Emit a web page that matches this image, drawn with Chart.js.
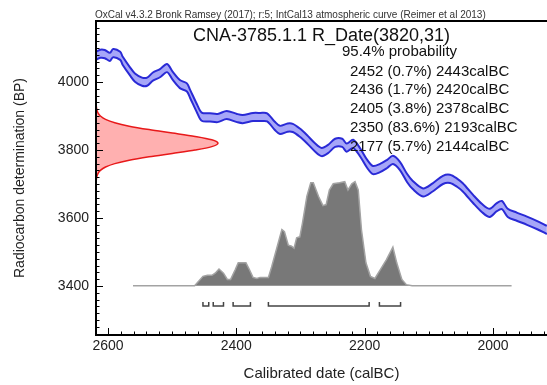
<!DOCTYPE html>
<html><head><meta charset="utf-8">
<script src="https://cdn.jsdelivr.net/npm/chart.js@4.4.1/dist/chart.umd.min.js"></script>
<style>html,body{margin:0;padding:0;background:#fff;}#wrap{width:547px;height:385px;position:relative;}</style>
</head><body><div id="wrap"><canvas id="c" width="547" height="385"></canvas></div>
<script>
// ---------- data ----------
const headerText = 'OxCal v4.3.2 Bronk Ramsey (2017); r:5; IntCal13 atmospheric curve (Reimer et al 2013)';
const sampleName = 'CNA-3785.1.1';
const dateBP = 3820;
const dateErr = 31;
const probLevel = 95.4;
const rangeFrom = [2452, 2436, 2405, 2350, 2177];
const rangePct  = [0.7, 1.7, 3.8, 83.6, 5.7];
const rangeTo   = [2443, 2420, 2378, 2193, 2144];
const xTicks = [2600, 2400, 2200, 2000];
const yTicks = [3400, 3600, 3800, 4000];

// calibration curve (IntCal13), calBC vs BP, with 1-sigma half width
const calBC = [2619,2612,2605,2597,2592,2581,2577,2566,2558,2547,2539,2530,2519,2508,2499,2488,2477,2472,2461,2454,2441,2429,2415,2399,2390,2374,2363,2352,2340,2332,2320,2312,2301,2290,2277,2267,2257,2246,2235,2228,2218,2207,2196,2187,2176,2165,2156,2145,2134,2125,2109,2094,2078,2067,2056,2047,2031,2017,2005,1994,1986,1977,1963,1947,1931,1916];
const curveBP = [4077,4083,4082,4074,4085,4077,4062,4032,4013,4001,4001,4016,4026,4041,4018,3994,3984,3965,3921,3898,3896,3894,3903,3894,3891,3897,3897,3896,3871,3859,3866,3865,3851,3832,3807,3794,3803,3821,3821,3807,3818,3793,3759,3741,3747,3759,3771,3753,3718,3697,3675,3690,3712,3715,3704,3690,3656,3629,3615,3632,3638,3615,3604,3592,3579,3565];
const curveSigma = [12,12,12,12,12,12,12,12,12,12,12,12,12,12,12,12,12,12,12,12,12,12,12,12,12,12,12,12,12,12,12,12,12,12,12,12,12,12,12,12,12,12,12,12,12,12,12,12,12,12,12,12,12,12,12,12,12,12,12,12,12,12,12,12,12,12];

// measured radiocarbon date distribution (relative probability)
const gaussBP   = [3700,3710,3720,3730,3740,3750,3760,3770,3780,3790,3800,3810,3820,3830,3840,3850,3860,3870,3880,3890,3900,3910,3920,3930,3940];
const gaussProb = [0.001,0.002,0.006,0.015,0.036,0.078,0.154,0.272,0.435,0.626,0.812,0.949,1.0,0.949,0.812,0.626,0.435,0.272,0.154,0.078,0.036,0.015,0.006,0.002,0.001];

// calibrated (posterior) distribution, relative probability
const postCal  = [2561,2465,2452,2445,2438,2433,2427,2420,2414,2409,2402,2397,2390,2385,2380,2374,2368,2363,2350,2345,2337,2329,2325,2319,2314,2310,2306,2301,2297,2290,2284,2280,2272,2265,2260,2255,2249,2239,2231,2226,2220,2215,2210,2205,2198,2191,2184,2176,2166,2156,2150,2142,2135,2126,1971];
const postProb = [0,0,0.09,0.10,0.10,0.12,0.16,0.12,0.06,0.06,0.15,0.22,0.22,0.22,0.16,0.08,0.07,0.08,0.08,0.18,0.36,0.54,0.52,0.39,0.38,0.36,0.46,0.47,0.60,0.86,0.99,0.99,0.86,0.77,0.78,0.92,0.98,0.99,1.00,0.92,0.98,1.00,0.92,0.54,0.22,0.09,0.07,0.15,0.25,0.37,0.22,0.06,0.01,0,0];

// ---------- chart ----------
const FONT = '"Liberation Sans", Arial, Helvetica, sans-serif';
Chart.defaults.font.family = FONT;
const BR_TOP = -0.157, BR_BAR = -0.195;

const bracketData = [];
rangeFrom.forEach((f, i) => {
  bracketData.push({x: f, y: BR_TOP}, {x: f, y: BR_BAR}, {x: rangeTo[i], y: BR_BAR}, {x: rangeTo[i], y: BR_TOP}, {x: rangeTo[i], y: null});
});

const framePlugin = {
  id: 'frame',
  afterDatasetsDraw(chart) {
    const {ctx, chartArea: a, scales: {x, y}} = chart;
    ctx.save();
    ctx.strokeStyle = '#000';
    ctx.lineWidth = 1;
    ctx.beginPath();
    for (let v = Math.ceil(x.min / 20) * 20; v <= x.max; v += 20) {
      const p = Math.round(x.getPixelForValue(v)) + 0.5;
      const len = v % 200 === 0 ? 7 : 3.5;
      ctx.moveTo(p, a.bottom); ctx.lineTo(p, a.bottom - len);
    }
    for (let v = Math.ceil(y.min / 20) * 20; v <= y.max; v += 20) {
      const p = Math.round(y.getPixelForValue(v)) + 0.5;
      const len = v % 200 === 0 ? 7 : 3.5;
      ctx.moveTo(a.left, p); ctx.lineTo(a.left + len, p);
    }
    ctx.stroke();
    ctx.lineWidth = 2;
    ctx.beginPath();
    ctx.moveTo(a.right, a.top); ctx.lineTo(a.left, a.top); ctx.lineTo(a.left, a.bottom); ctx.lineTo(a.right, a.bottom);
    ctx.stroke();
    ctx.restore();
  },
  afterDraw(chart) {
    const {ctx, chartArea: a} = chart;
    ctx.save();
    ctx.textBaseline = 'middle';
    ctx.fillStyle = '#333';
    ctx.textAlign = 'left';
    ctx.font = '10px ' + FONT;
    ctx.fillText(headerText, 95, 15);
    ctx.fillStyle = '#111';
    ctx.font = '18px ' + FONT;
    ctx.textAlign = 'center';
    ctx.fillText(sampleName + ' R_Date(' + dateBP + ',' + dateErr + ')', (a.left + a.right) / 2, 36);
    ctx.font = '15px ' + FONT;
    ctx.textAlign = 'left';
    ctx.fillText(probLevel + '% probability', 342, 52);
    rangeFrom.forEach((f, i) => {
      ctx.fillText(f + ' (' + rangePct[i] + '%) ' + rangeTo[i] + 'calBC', 350, 71.5 + i * 18.8);
    });
    ctx.restore();
  }
};

new Chart(document.getElementById('c'), {
  type: 'line',
  data: {
    datasets: [
      {label: 'posterior', data: postCal.map((c, i) => ({x: c, y: postProb[i]})), xAxisID: 'x', yAxisID: 'yp',
       borderColor: '#a3a3a3', borderWidth: 1.5, backgroundColor: '#787878', fill: 'origin', pointRadius: 0, tension: 0, order: 5},
      {label: 'date', indexAxis: 'y', data: gaussBP.map((b, i) => ({x: gaussProb[i], y: b})), xAxisID: 'xg', yAxisID: 'y',
       borderColor: '#e8191a', borderWidth: 1.5, backgroundColor: '#ffb0b0', fill: 'origin', pointRadius: 0, tension: 0.3, order: 4},
      {label: 'curveHi', data: calBC.map((c, i) => ({x: c, y: curveBP[i] + curveSigma[i]})), xAxisID: 'x', yAxisID: 'y',
       borderColor: '#2a2ad6', borderWidth: 2, pointRadius: 0, tension: 0.3, fill: false, order: 3},
      {label: 'curveLo', data: calBC.map((c, i) => ({x: c, y: curveBP[i] - curveSigma[i]})), xAxisID: 'x', yAxisID: 'y',
       borderColor: '#2a2ad6', borderWidth: 2, pointRadius: 0, tension: 0.3, fill: '-1', backgroundColor: '#a6a6f8', order: 3},
      {label: 'ranges', data: bracketData, xAxisID: 'x', yAxisID: 'yp', borderColor: '#444', borderWidth: 1.5,
       pointRadius: 0, tension: 0, fill: false, spanGaps: false, order: 1}
    ]
  },
  options: {
    responsive: false,
    animation: false,
    layout: {padding: {top: 21, left: 0, right: 0, bottom: 0}},
    plugins: {legend: {display: false}, tooltip: {enabled: false}, title: {display: false}},
    scales: {
      x: {type: 'linear', position: 'bottom', reverse: true, min: 1915.8, max: 2618.7,
          afterBuildTicks: s => { s.ticks = xTicks.map(v => ({value: v})); },
          afterFit: s => { s.height = 50; s.paddingLeft = 0; s.paddingRight = 0; },
          grid: {display: false, drawTicks: false}, border: {display: false},
          ticks: {color: '#222', font: {size: 14}, padding: 3, maxRotation: 0, autoSkip: false, callback: v => String(v)},
          title: {display: true, text: 'Calibrated date (calBC)', color: '#222', font: {size: 15}, padding: {top: 0, bottom: 2}}},
      y: {type: 'linear', position: 'left', min: 3255.9, max: 4179.4,
          afterBuildTicks: s => { s.ticks = yTicks.map(v => ({value: v})); },
          afterFit: s => { s.width = 96; s.paddingTop = 0; s.paddingBottom = 0; },
          grid: {display: false, drawTicks: false}, border: {display: false},
          ticks: {color: '#222', font: {size: 14}, padding: 7, autoSkip: false, callback: v => String(v)},
          title: {display: true, text: 'Radiocarbon determination (BP)', color: '#222', font: {size: 14}, padding: {top: 11.6, bottom: 0}}},
      xg: {type: 'linear', axis: 'x', display: false, min: 0, max: 3.697},
      yp: {type: 'linear', axis: 'y', display: false, min: -0.474, max: 2.545}
    }
  },
  plugins: [framePlugin]
});
</script></body></html>
